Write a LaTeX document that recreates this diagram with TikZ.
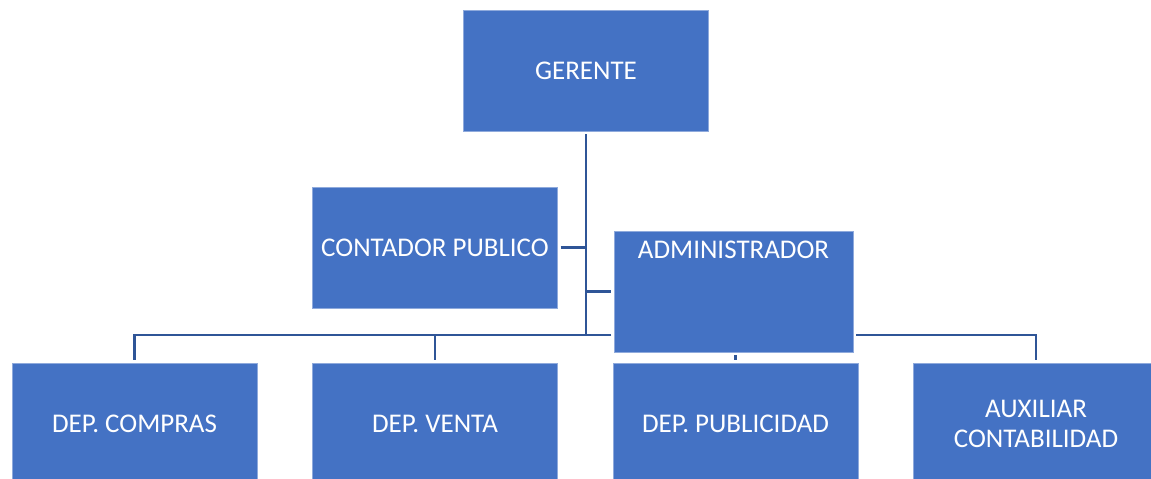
\documentclass[tikz,border=0pt]{standalone}
\usepackage{fontspec}
\setmainfont{Carlito}
\usetikzlibrary{positioning}
\definecolor{orgfill}{RGB}{68,114,196}
\definecolor{orgedge}{RGB}{143,170,220}
\definecolor{orgline}{RGB}{47,85,151}

\begin{document}
\begin{tikzpicture}[
  x=1pt, y=-1pt,
  node distance=55.5pt,
  unit/.style={rectangle, draw=orgedge, line width=0.8pt, fill=orgfill, text=white, minimum width=245pt, minimum height=121pt, outer sep=0pt, align=center, font=\fontsize{27}{30}\selectfont},
  link/.style={draw=orgline, line width=2.8pt, shorten <=3pt, shorten >=3pt},
]
  \useasboundingbox (0,0) rectangle (1151,479);
  \clip (0,0) rectangle (1151,479);

  \node[unit] (gerente) at (586,70.5) {GERENTE};
  \node[unit] (contador) at (435,247.5) {CONTADOR PUBLICO};
  \node[unit, minimum width=239pt, label={[text=white, font=\fontsize{27}{30}\selectfont, anchor=base, label distance=-27pt]north:ADMINISTRADOR}] (admin) at (733.5,291.5) {};

  \node[unit] (compras) at (134.5,423.5) {DEP. COMPRAS};
  \node[unit, right=of compras] (venta) {DEP. VENTA};
  \node[unit, right=of venta] (publicidad) {DEP. PUBLICIDAD};
  \node[unit, right=of publicidad] (auxiliar) {AUXILIAR\\CONTABILIDAD};

  \coordinate (hub) at (586,335);

  \draw[link, shorten >=0pt] (gerente.south) -- (hub);
  \draw[link, shorten >=0pt] (contador.east) -- (contador.east -| hub);
  \draw[link, shorten <=0pt] (admin.west -| hub) -- (admin.west);

  \draw[link] (admin.west |- hub) -| (compras.north);
  \draw[link] (admin.west |- hub) -| (venta.north);
  \draw[link] (admin.south -| publicidad.north) -- (publicidad.north);
  \draw[link] (admin.east |- hub) -| (auxiliar.north);
\end{tikzpicture}
\end{document}
